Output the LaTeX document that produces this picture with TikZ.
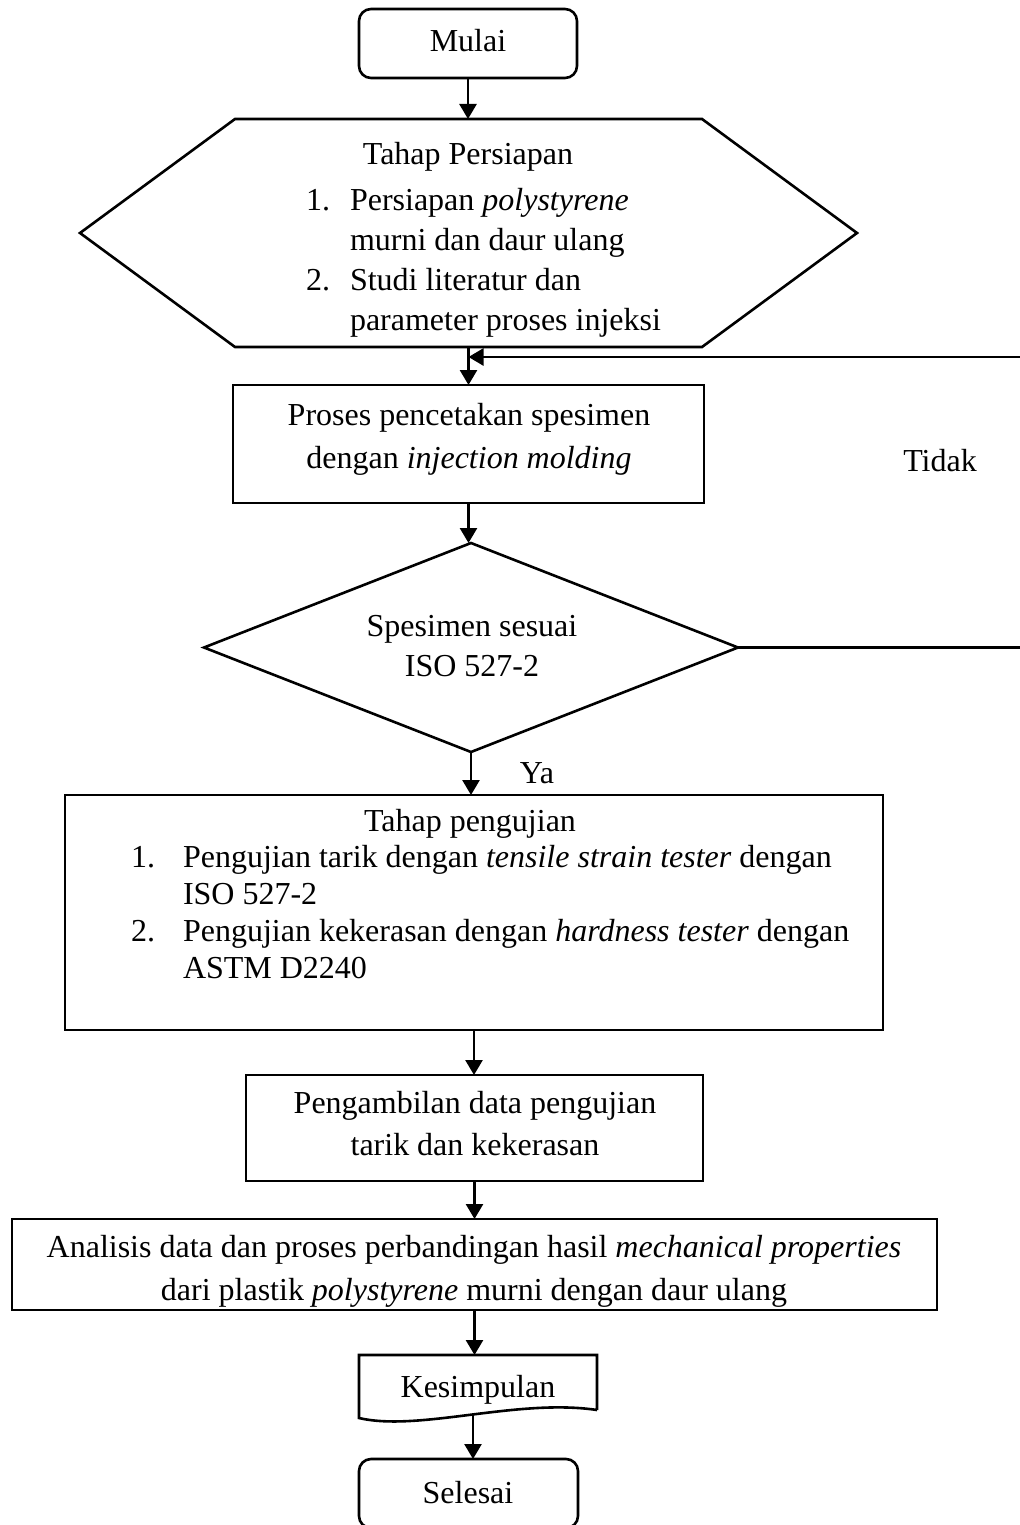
\documentclass[tikz,border=0pt]{standalone}
\usepackage{fontspec}
\setmainfont{Liberation Serif}
\usetikzlibrary{arrows.meta,shapes.geometric,calc}
\begin{document}
\begin{tikzpicture}[x=0.5pt,y=-0.5pt,
  ln/.style={line width=1.3pt},
  arr/.style={line width=1.3pt,-{Triangle[width=8.5pt,length=7.5pt]}},
  boxnode/.style={draw,line width=1.3pt,rectangle,inner sep=0pt,outer sep=0pt,anchor=north west},
  termnode/.style={boxnode,rounded corners=6pt},
  shapenode/.style={rectangle,inner sep=0pt,outer sep=0pt},
  txt/.style={inner sep=0pt,outer sep=0pt,anchor=base,font=\fontsize{16}{20}\selectfont},
  lst/.style={txt,anchor=base west},
]
\useasboundingbox (0,0) rectangle (1020,1525);
\fill[white] (0,0) rectangle (1020,1525);
% start
\node[termnode,minimum width=109pt,minimum height=34.5pt] (mulai) at (359,9) {};
\node[txt] (mulai-t) at (468,52) {Mulai};
% preparation (hexagon)
\node[shapenode,minimum width=388.5pt,minimum height=114pt] (prep) at (468.5,233) {};
\draw[ln] (prep.west) -- ($(prep.north west)+(155,0)$) -- ($(prep.north east)+(-155,0)$) -- (prep.east) -- ($(prep.south east)+(-155,0)$) -- ($(prep.south west)+(155,0)$) -- cycle;
\node[txt] (prep-t) at (468,164) {Tahap Persiapan};
\node[lst] (prep-l) at (306,210) {\begin{tabular}[t]{@{}l@{\hspace{10pt}}l@{}}1.&Persiapan \textit{polystyrene}\\&murni dan daur ulang\\2.&Studi literatur dan\\&parameter proses injeksi\end{tabular}};
% process
\node[boxnode,minimum width=235.5pt,minimum height=59pt] (proc) at (233,385) {};
\node[txt] (proc-t) at (469,425) {\begin{tabular}[t]{@{}c@{}}Proses pencetakan spesimen\\[1.5pt]dengan \textit{injection molding}\end{tabular}};
% decision
\node[diamond,draw,ln,inner sep=0pt,outer sep=0pt,minimum width=267pt,minimum height=104.5pt] (dec) at (471,647.5) {};
\node[txt] (dec-t) at (472,636) {\begin{tabular}[t]{@{}c@{}}Spesimen sesuai\\ISO 527-2\end{tabular}};
% testing
\node[boxnode,minimum width=409pt,minimum height=117.5pt] (test) at (65,795) {};
\node[txt] (test-t) at (470,831) {Tahap pengujian};
\node[lst,font=\fontsize{16}{18.5}\selectfont] (test-l) at (131,867) {\begin{tabular}[t]{@{}l@{\hspace{14pt}}l@{}}1.&Pengujian tarik dengan \textit{tensile strain tester} dengan\\&ISO 527-2\\2.&Pengujian kekerasan dengan \textit{hardness tester} dengan\\&ASTM D2240\end{tabular}};
% data
\node[boxnode,minimum width=228.5pt,minimum height=53pt] (data) at (246,1075) {};
\node[txt] (data-t) at (475,1113) {\begin{tabular}[t]{@{}c@{}}Pengambilan data pengujian\\[1pt]tarik dan kekerasan\end{tabular}};
% analysis
\node[boxnode,minimum width=462.5pt,minimum height=45.5pt] (anal) at (12,1219) {};
\node[txt] (anal-t) at (474,1257) {\begin{tabular}[t]{@{}c@{}}Analisis data dan proses perbandingan hasil \textit{mechanical properties}\\[1.5pt]dari plastik \textit{polystyrene} murni dengan daur ulang\end{tabular}};
% conclusion (document shape)
\node[shapenode,minimum width=119pt,minimum height=27.5pt,anchor=north west] (kes) at (359,1355) {};
\draw[ln] (kes.south east) -- (kes.north east) -- (kes.north west) -- ($(kes.south west)+(0,8)$) .. controls ($(kes.south west)+(60,22)$) and ($(kes.south east)+(-80,-12)$) .. (kes.south east);
\node[txt] (kes-t) at (478,1397) {Kesimpulan};
\coordinate (kes-b) at (473,1415);
% end
\node[termnode,minimum width=109.5pt,minimum height=34.5pt] (selesai) at (359,1459) {};
\node[txt] (selesai-t) at (468,1503) {Selesai};
% labels
\node[txt] (tidak) at (940,471) {Tidak};
\node[txt] (ya) at (537,783) {Ya};
% connectors
\coordinate (loopc) at (1023,357);
\draw[arr] (mulai.south) -- (mulai.south |- prep.north);
\draw[arr] (prep.south) -- (prep.south |- proc.north);
\draw[arr] (proc.south) -- (proc.south |- dec.north);
\draw[arr] (dec.south) -- (dec.south |- test.north);
\draw[arr] (test.south) -- (test.south |- data.north);
\draw[arr] (data.south) -- (data.south |- anal.north);
\draw[arr] (anal.south) -- (anal.south |- kes.north);
\draw[arr] (kes-b) -- (kes-b |- selesai.north);
\draw[ln] (dec.east) -- (dec.east -| loopc) -- (loopc);
\draw[arr] (loopc) -- (loopc -| prep.south);
\end{tikzpicture}
\end{document}
